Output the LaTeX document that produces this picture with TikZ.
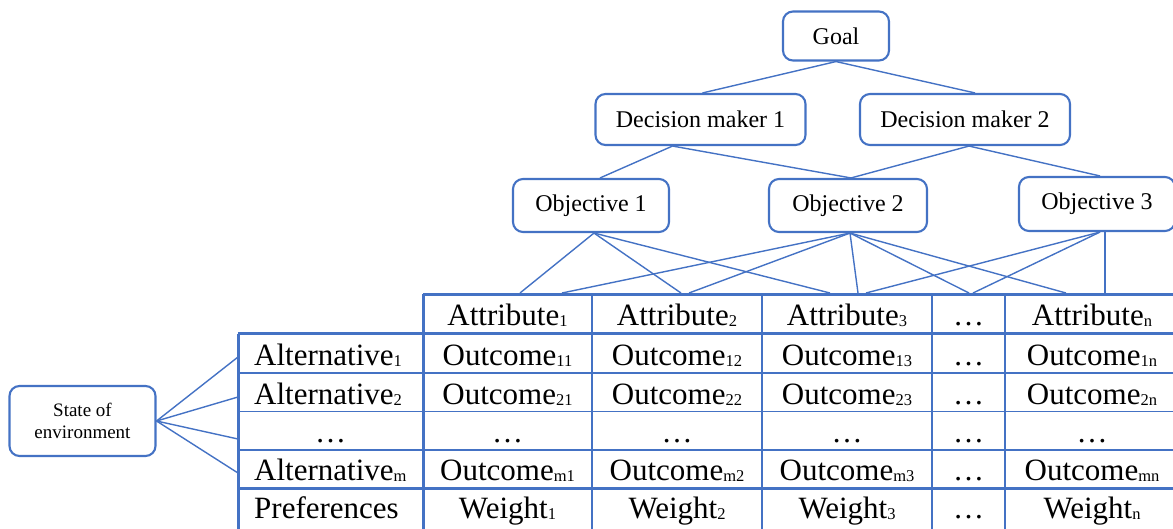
\documentclass[tikz,border=0pt]{standalone}
\usepackage{fontspec}
\setmainfont{Liberation Serif}
\usetikzlibrary{calc}
\definecolor{lineblue}{HTML}{4472C4}
% small lowered index used in the table labels
\newcommand{\sbt}[1]{\raisebox{-1pt}{\fontsize{16.5}{16.5}\selectfont #1}}

\begin{document}
\begin{tikzpicture}[x=1pt,y={(0pt,-1pt)},
  box/.style={draw=lineblue, line width=2.1pt, rounded corners=10pt, fill=white, inner sep=0pt, align=center},
  lvl/.style={box, font=\fontsize{24}{27}\selectfont},
  link/.style={draw=lineblue, line width=1.4pt},
  heavyrule/.style={draw=lineblue, line width=3pt},
  lightrule/.style={draw=lineblue, line width=1.6pt},
  cell/.style={anchor=base, inner sep=0pt, font=\fontsize{31}{34}\selectfont},
  rowhead/.style={cell, anchor=base west},
]
\useasboundingbox (0,0) rectangle (1173,528);
\clip (0,0) rectangle (1173,528);

% ---------- hierarchy boxes ----------
\node[lvl, minimum width=106pt, minimum height=49pt] (goal) at (836,36) {Goal};
\node[lvl, minimum width=210pt, minimum height=51pt] (dm1) at (700.5,119.5) {Decision maker 1};
\node[lvl, minimum width=210pt, minimum height=51pt] (dm2) at (965,119.5) {Decision maker 2};
\node[lvl, minimum width=156pt, minimum height=53pt] (ob1) at (591,205.5) {Objective 1};
\node[lvl, minimum width=158pt, minimum height=53pt] (ob2) at (848,205.5) {Objective 2};
\node[lvl, minimum width=156pt, minimum height=54pt] (ob3) at (1097,204) {Objective 3};
\node[box, minimum width=146pt, minimum height=70pt, font=\fontsize{19}{21.7}\selectfont] (state) at (82.5,421) {State of\\environment};

% ---------- table grid ----------
\foreach \x in {592,762,932,1005} \draw[lightrule] (\x,294) -- (\x,530);
\foreach \y in {373,411.5,450} \draw[lightrule] (238,\y) -- (1180,\y);
\draw[heavyrule] (423,294) -- (1180,294);
\draw[heavyrule] (238,333.5) -- (1180,333.5);
\draw[heavyrule] (238,488) -- (1180,488);
\draw[heavyrule] (238,333.5) -- (238,530);
\draw[heavyrule] (423,294) -- (423,530);

% attachment points on the table
\coordinate (p1) at (520,293);
\coordinate (p2) at (562,293);
\coordinate (p3) at (681,293);
\coordinate (p4) at (689,293);
\coordinate (p5) at (830,293);
\coordinate (p6) at (858,293);
\coordinate (p7) at (866,293);
\coordinate (p8) at (969,293);
\coordinate (p9) at (973,293);
\coordinate (p10) at (1066,293);
\coordinate (p11) at (1105,293);
\coordinate (a1) at (238,357);
\coordinate (a2) at (238,397);
\coordinate (a3) at (238,439);
\coordinate (a4) at (238,473);

% ---------- connectors ----------
\draw[link] (goal.south) -- ($(dm1.north)+(2,0)$);
\draw[link] (goal.south) -- ($(dm2.north)+(10,0)$);
\draw[link] ($(dm1.south)+(-28,0)$) -- ($(ob1.north)+(9,0)$);
\draw[link] ($(dm1.south)+(-28,0)$) -- ($(ob2.north)+(3,0)$);
\draw[link] ($(dm2.south)+(4,0)$) -- ($(ob2.north)+(3,0)$);
\draw[link] ($(dm2.south)+(4,0)$) -- ($(ob3.north)+(3,0)$);

\foreach \p in {p1,p3,p5} \draw[link] ($(ob1.south)+(3,0)$) -- (\p);
\foreach \p in {p2,p4,p6,p8,p10} \draw[link] ($(ob2.south)+(2,0)$) -- (\p);
\foreach \p in {p7,p9} \draw[link] ($(ob3.south)+(3,0)$) -- (\p);
\draw[link] ($(ob3.south)+(8,0)$) -- (p11);

\foreach \p in {a1,a2,a3,a4} \draw[link] (state.east) -- (\p);

% ---------- table text ----------
% header row
\node[cell] (h1) at (507.5,325.5) {Attribute\sbt{1}};
\node[cell] (h2) at (677,325.5) {Attribute\sbt{2}};
\node[cell] (h3) at (847,325.5) {Attribute\sbt{3}};
\node[cell] (h4) at (968.5,325.5) {…};
\node[cell] (h5) at (1092,325.5) {Attribute\sbt{n}};
% row 1
\node[rowhead] (r1) at (254,365.5) {Alternative\sbt{1}};
\node[cell] (c11) at (507.5,365.5) {Outcome\sbt{11}};
\node[cell] (c12) at (677,365.5) {Outcome\sbt{12}};
\node[cell] (c13) at (847,365.5) {Outcome\sbt{13}};
\node[cell] (c14) at (968.5,365.5) {…};
\node[cell] (c15) at (1092,365.5) {Outcome\sbt{1n}};
% row 2
\node[rowhead] (r2) at (254,404) {Alternative\sbt{2}};
\node[cell] (c21) at (507.5,404) {Outcome\sbt{21}};
\node[cell] (c22) at (677,404) {Outcome\sbt{22}};
\node[cell] (c23) at (847,404) {Outcome\sbt{23}};
\node[cell] (c24) at (968.5,404) {…};
\node[cell] (c25) at (1092,404) {Outcome\sbt{2n}};
% row 3
\node[cell] (r3) at (330.5,442.5) {…};
\node[cell] (c31) at (507.5,442.5) {…};
\node[cell] (c32) at (677,442.5) {…};
\node[cell] (c33) at (847,442.5) {…};
\node[cell] (c34) at (968.5,442.5) {…};
\node[cell] (c35) at (1092,442.5) {…};
% row 4
\node[rowhead] (r4) at (254,480) {Alternative\sbt{m}};
\node[cell] (c41) at (507.5,480) {Outcome\sbt{m1}};
\node[cell] (c42) at (677,480) {Outcome\sbt{m2}};
\node[cell] (c43) at (847,480) {Outcome\sbt{m3}};
\node[cell] (c44) at (968.5,480) {…};
\node[cell] (c45) at (1092,480) {Outcome\sbt{mn}};
% row 5
\node[rowhead] (r5) at (254,518) {Preferences};
\node[cell] (c51) at (507.5,518) {Weight\sbt{1}};
\node[cell] (c52) at (677,518) {Weight\sbt{2}};
\node[cell] (c53) at (847,518) {Weight\sbt{3}};
\node[cell] (c54) at (968.5,518) {…};
\node[cell] (c55) at (1092,518) {Weight\sbt{n}};
\end{tikzpicture}
\end{document}
